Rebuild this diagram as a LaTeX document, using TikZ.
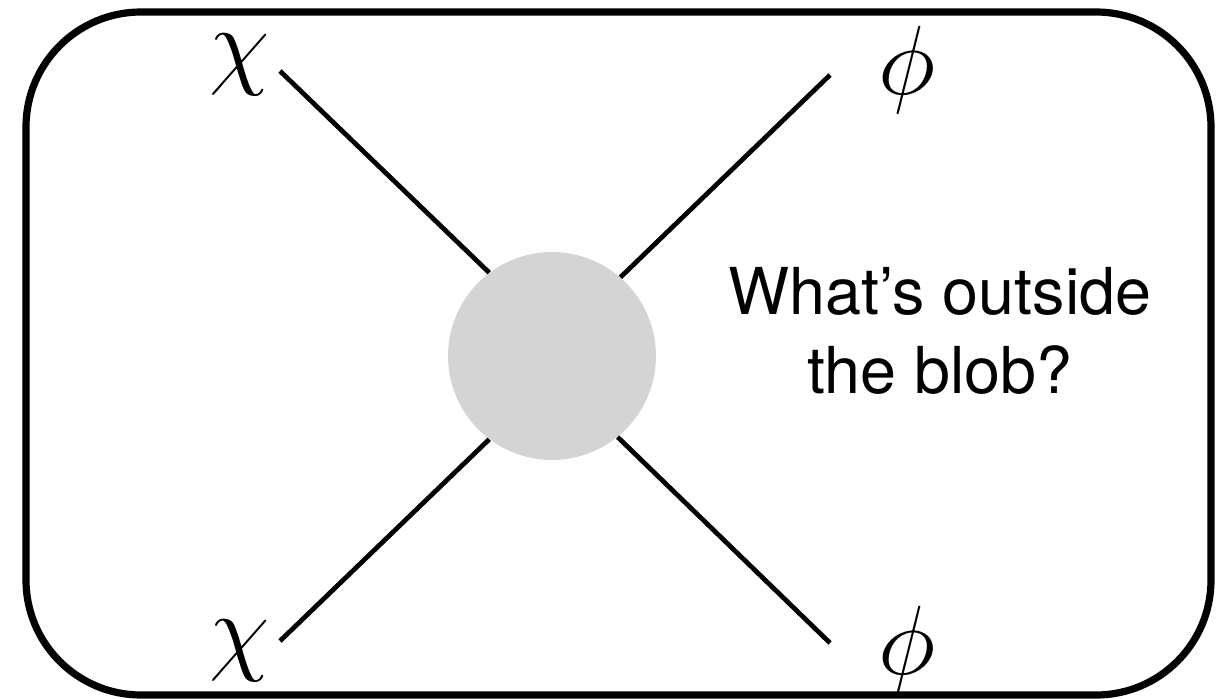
\RequirePackage{fix-cm}
\documentclass[tikz,border=0pt]{standalone}
\usepackage{fontspec}
\newfontfamily\helv{TeX Gyre Heros}
\usetikzlibrary{positioning}
\definecolor{blobgray}{RGB}{212,212,212}
\tikzset{
  frame/.style={draw=black,line width=4.1pt,rounded corners=2.3cm},
  blob/.style={circle,fill=blobgray,minimum size=4.16cm,inner sep=0pt},
  leg/.style={line width=2.7pt},
  particle/.style={inner sep=0pt,font=\fontsize{56}{60}\selectfont},
  question/.style={align=center,inner sep=0pt,font=\helv\fontsize{36.8}{44.4}\selectfont}
}

\begin{document}
\begin{tikzpicture}[x=0.02cm,y=-0.02cm]
  \useasboundingbox (0,0) rectangle (1231,699);
  \draw[frame] (26,12) rectangle (1211,695);

  % the blob and the four external legs
  \node[blob] (core) at (552,356) {};
  \node[particle] (chiA) at (240,65) {$\chi$};
  \node[particle] (chiB) at (240,651) {$\chi$};
  \node[particle] (phiA) at (907,70) {$\phi$};
  \node[particle] (phiB) at (907,650) {$\phi$};

  \coordinate (legA) at (280,71);
  \coordinate (legB) at (280,641);
  \coordinate (legC) at (830,75);
  \coordinate (legD) at (830,643);

  \draw[leg] (legA) -- (core.127);
  \draw[leg] (legB) -- (core.233);
  \draw[leg] (legC) -- (core.49);
  \draw[leg] (legD) -- (core.309);

  \node[question,anchor=base] (q) at (940,393) {What’s outside\\the blob?};
\end{tikzpicture}
\end{document}
